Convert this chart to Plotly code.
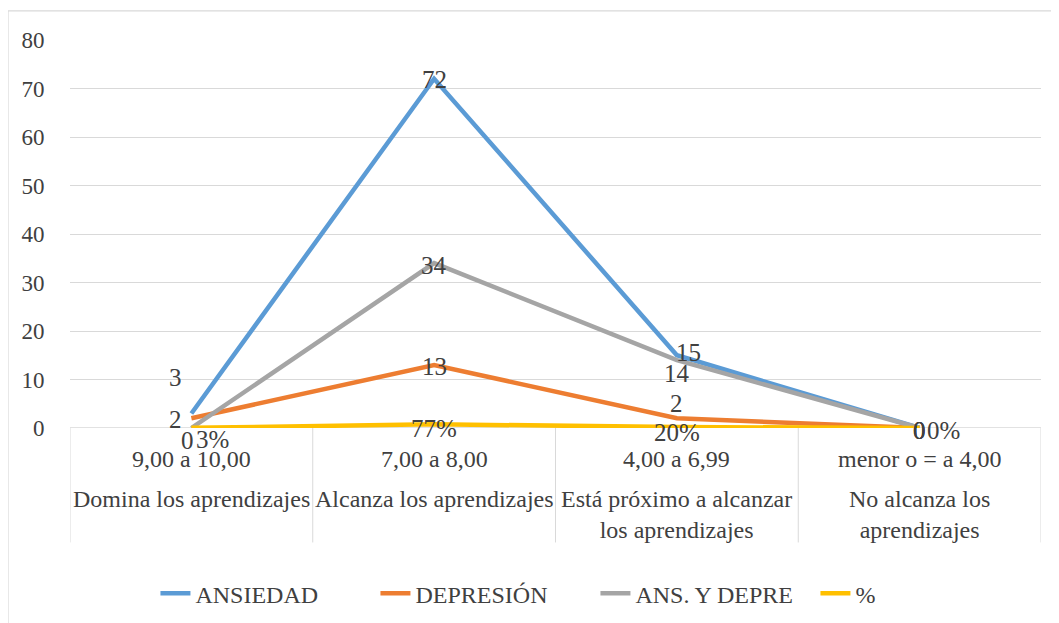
import plotly.graph_objects as go

rangos = ["9,00 a 10,00", "7,00 a 8,00", "4,00 a 6,99", "menor o = a 4,00"]
niveles = ["Domina los aprendizajes", "Alcanza los aprendizajes",
           "Está próximo a alcanzar<br>los aprendizajes", "No alcanza los<br>aprendizajes"]

ansiedad = [3, 72, 15, 0]
depresion = [2, 13, 2, 0]
ans_depre = [0, 34, 14, 0]
porcentaje = [0.03, 0.77, 0.20, 0.0]
porcentaje_txt = ["3%", "77%", "20%", "0%"]

y_ticks = [0, 10, 20, 30, 40, 50, 60, 70, 80]

FONT = "Liberation Serif"
TXT = "#404040"
x = list(range(len(rangos)))

series = [
    ("ANSIEDAD", ansiedad, [str(v) for v in ansiedad], "#5B9BD5",
     [(-16, 36), (0, -1), (12, 3), (0, -2)]),
    ("DEPRESIÓN", depresion, [str(v) for v in depresion], "#ED7D31",
     [(-16, -1), (0, -2), (0, 15), (0, -2)]),
    ("ANS. Y DEPRE", ans_depre, [str(v) for v in ans_depre], "#A5A5A5",
     [(-4, -12), (0, -2), (0, -13), (0, -2)]),
    ("%", porcentaje, porcentaje_txt, "#FFC000",
     [(21, -12), (0, -4), (0, -5), (24, -2)]),
]

fig = go.Figure()
annotations = []
for name, vals, labels, color, offs in series:
    fig.add_trace(go.Scatter(x=x, y=vals, mode="lines", name=name,
                             line=dict(color=color, width=4.5)))
    for xi, v, lab, (dx, dy) in zip(x, vals, labels, offs):
        annotations.append(dict(x=xi, y=v, xref="x", yref="y", text=lab,
                                showarrow=False, xshift=dx, yshift=dy,
                                font=dict(family=FONT, size=25, color=TXT)))

# category labels (two levels)
for xi, r, n in zip(x, rangos, niveles):
    annotations.append(dict(x=xi, y=-0.042, xref="x", yref="paper", text=r,
                            showarrow=False, yanchor="top",
                            font=dict(family=FONT, size=24, color=TXT)))
    annotations.append(dict(x=xi, y=-0.145, xref="x", yref="paper", text=n,
                            showarrow=False, yanchor="top",
                            font=dict(family=FONT, size=24, color=TXT)))

shapes = []
for xb in [-0.5, 0.5, 1.5, 2.5, 3.5]:
    shapes.append(dict(type="line", xref="x", yref="paper", x0=xb, x1=xb,
                       y0=0, y1=-0.295, line=dict(color="#D9D9D9", width=1)))
shapes.append(dict(type="rect", xref="paper", yref="paper",
                   x0=-0.0639, x1=1.05, y0=-0.6, y1=1.075,
                   line=dict(color="#D9D9D9", width=1.3), layer="below"))
shapes.append(dict(type="line", xref="paper", yref="y", x0=0, x1=1, y0=0, y1=0,
                   line=dict(color="#D9D9D9", width=1.3), layer="below"))

fig.update_layout(
    width=1051, height=615,
    margin=dict(l=62, r=18, t=32, b=195, autoexpand=False),
    paper_bgcolor="white", plot_bgcolor="white",
    font=dict(family=FONT),
    showlegend=True,
    legend=dict(orientation="h", x=0.088, xanchor="left", y=-0.427,
                yanchor="middle", font=dict(family=FONT, size=24, color=TXT),
                entrywidth=175, entrywidthmode="pixels", tracegroupgap=0),
    xaxis=dict(range=[-0.5, 3.5], showticklabels=False, showgrid=False,
               zeroline=False, showline=False, fixedrange=True),
    yaxis=dict(range=[0, 80], tickvals=y_ticks, showgrid=True,
               gridcolor="#D9D9D9", gridwidth=1, zeroline=False,
               showline=False, ticks="outside", ticklen=20,
               tickcolor="rgba(0,0,0,0)",
               tickfont=dict(family=FONT, size=23, color=TXT)),
    annotations=annotations,
    shapes=shapes,
)

fig.write_html("out.html")
